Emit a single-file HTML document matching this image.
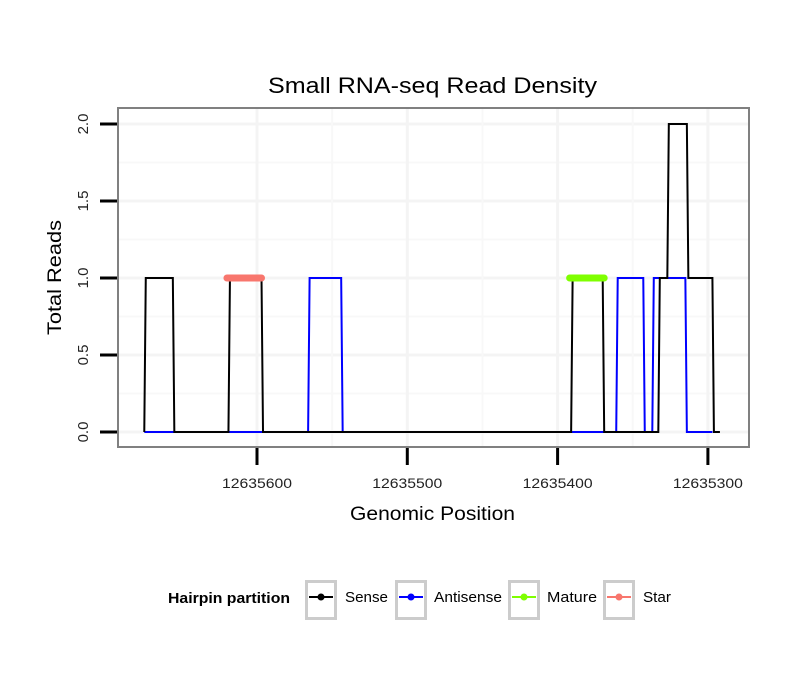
<!DOCTYPE html>
<html><head><meta charset="utf-8"><style>
body{margin:0;background:#fff;font-family:"Liberation Sans",sans-serif}
svg text{font-family:"Liberation Sans",sans-serif}
</style></head><body>
<svg id="chart" width="810" height="690">
<rect width="810" height="690" fill="#fff"/>
<text x="268" y="93" font-size="22" textLength="329" lengthAdjust="spacingAndGlyphs">Small RNA-seq Read Density</text>
<g id="grid"></g>
<g id="series"></g>
<rect x="118" y="108" width="631" height="339" fill="none" stroke="#808080" stroke-width="2"/>
<g id="axes"></g>
<text x="350" y="520" font-size="19" textLength="165" lengthAdjust="spacingAndGlyphs">Genomic Position</text>
<text transform="translate(61,335) rotate(-90)" font-size="19" textLength="115" lengthAdjust="spacingAndGlyphs">Total Reads</text>
<g id="legend"></g>
</svg>
<script>
const xTicks=[12635600,12635500,12635400,12635300];
const xTickLabels=["12635600","12635500","12635400","12635300"];
const yTicks=[0,0.5,1,1.5,2];
const yTickLabels=["0.0","0.5","1.0","1.5","2.0"];
const senseX=[12635675,12635674,12635656,12635655,12635619,12635618,12635597,12635596,12635391,12635390,12635370,12635369,12635333,12635332,12635327,12635326,12635314,12635313,12635297,12635296,12635292];
const senseY=[0,1,1,0,0,1,1,0,0,1,1,0,0,1,1,2,2,1,1,0,0];
const antiX=[12635675,12635566,12635565,12635544,12635543,12635361,12635360,12635343,12635342,12635337,12635336,12635315,12635314,12635297];
const antiY=[0,0,1,1,0,0,1,1,0,0,1,1,0,0];
const matureX=[12635392,12635369];
const matureY=[1,1];
const starX=[12635620,12635597];
const starY=[1,1];
const NS="http://www.w3.org/2000/svg";
function X(v){return 257+(12635600-v)*1.503;}
function Y(v){return 432-v*154;}
function mk(tag,attrs,parent){const e=document.createElementNS(NS,tag);for(const k in attrs)e.setAttribute(k,attrs[k]);parent.appendChild(e);return e;}
const grid=document.getElementById('grid'),axes=document.getElementById('axes'),ser=document.getElementById('series');
mk('rect',{x:118,y:108,width:631,height:339,fill:'#fff'},grid);
for(let i=0;i<yTicks.length;i++){
  const l=mk('line',{x1:118,x2:749,y1:Y(yTicks[i]),y2:Y(yTicks[i]),stroke:'#f4f4f4','stroke-width':3},grid);
  
  
  if(i<yTicks.length-1){mk('line',{x1:118,x2:749,y1:Y((yTicks[i]+yTicks[i+1])/2),y2:Y((yTicks[i]+yTicks[i+1])/2),stroke:'#f8f8f8','stroke-width':2},grid);}
  const t=mk('line',{x1:100,x2:117,y1:Y(yTicks[i]),y2:Y(yTicks[i]),stroke:'#000','stroke-width':3},axes);
  
  
  const tx=mk('text',{transform:`translate(88,${Y(yTicks[i])}) rotate(-90)`,'font-size':15,'text-anchor':'middle',fill:'#222'},axes);
  tx.textContent=yTickLabels[i];
  
  
}
for(let i=0;i<xTicks.length;i++){
  const l=mk('line',{y1:108,y2:447,x1:X(xTicks[i]),x2:X(xTicks[i]),stroke:'#f4f4f4','stroke-width':3},grid);
  
  
  if(i<xTicks.length-1){const mx=X((xTicks[i]+xTicks[i+1])/2);mk('line',{y1:108,y2:447,x1:mx,x2:mx,stroke:'#f8f8f8','stroke-width':2},grid);}
  const t=mk('line',{y1:448,y2:465,x1:X(xTicks[i]),x2:X(xTicks[i]),stroke:'#000','stroke-width':3},axes);
  
  
  const tx=mk('text',{x:X(xTicks[i])-35,y:488,'font-size':13.5,textLength:70,lengthAdjust:'spacingAndGlyphs',fill:'#222'},axes);
  tx.textContent=xTickLabels[i];
  
  
}
function line(xs,ys,color,w,name){
  const p=mk('polyline',{points:xs.map((v,i)=>X(v)+','+Y(ys[i])).join(' '),fill:'none',stroke:color,'stroke-width':w,'stroke-linecap':(w>3?'round':'butt')},ser);
  
  
}
line(antiX,antiY,'#0000ff',2,'antisense-line');
line(senseX,senseY,'#000',2,'sense-line');
line(matureX,matureY,'#7fff00',7,'mature-line');
line(starX,starY,'#f8766d',7,'star-line');
const lg=document.getElementById('legend');
const tt=mk('text',{x:168,y:603,'font-size':15,'font-weight':'bold',textLength:122,lengthAdjust:'spacingAndGlyphs'},lg);
tt.textContent='Hairpin partition';


const keys=[['Sense','#000',305,345,43],['Antisense','#0000ff',395,434,68],['Mature','#7fff00',508,547,50],['Star','#f8766d',603,643,28]];
keys.forEach(k=>{
  const g=mk('g',{},lg);
  
  
  mk('rect',{x:k[2]+1.5,y:581.5,width:29,height:37,fill:'#fff',stroke:'#cccccc','stroke-width':3},g);
  mk('line',{x1:k[2]+4,x2:k[2]+28,y1:597,y2:597,stroke:k[1],'stroke-width':2},g);
  mk('circle',{cx:k[2]+16,cy:597,r:3.5,fill:k[1]},g);
  const t=mk('text',{x:k[3],y:602,'font-size':15,textLength:k[4],lengthAdjust:'spacingAndGlyphs'},g);t.textContent=k[0];
});
</script>
</body></html>
